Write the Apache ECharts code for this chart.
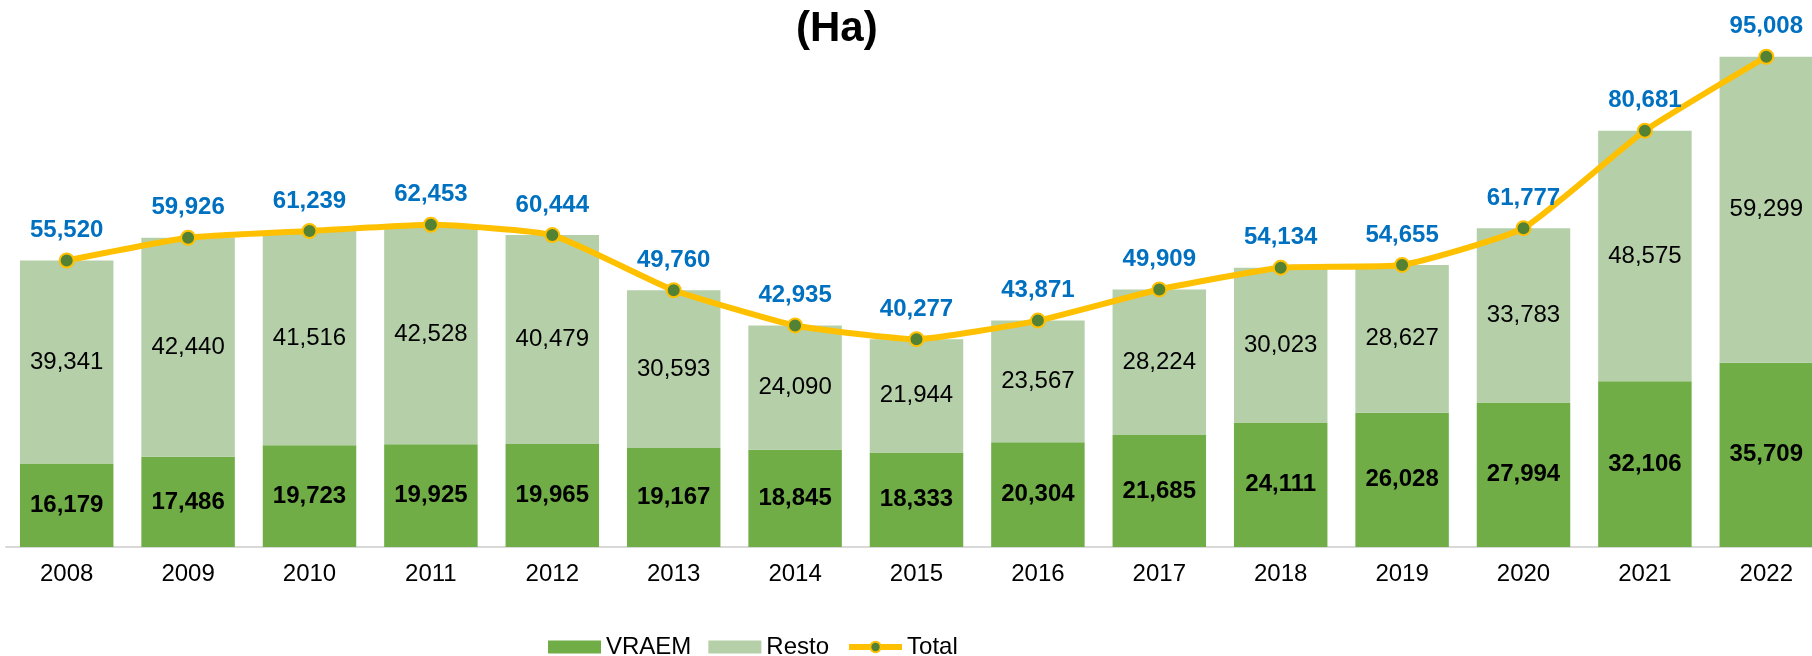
<!DOCTYPE html>
<html>
<head>
<meta charset="utf-8">
<script src="https://cdn.jsdelivr.net/npm/echarts@6/dist/echarts.min.js"></script>
<style>
html, body { margin: 0; padding: 0; background: #fff; }
#main { width: 1812px; height: 656px; }
</style>
</head>
<body>
<div id="main"></div>
<script>
// datos (Ha)
var years = ['2008','2009','2010','2011','2012','2013','2014','2015','2016','2017','2018','2019','2020','2021','2022'];
var vraem = [16179, 17486, 19723, 19925, 19965, 19167, 18845, 18333, 20304, 21685, 24111, 26028, 27994, 32106, 35709];
var resto = [39341, 42440, 41516, 42528, 40479, 30593, 24090, 21944, 23567, 28224, 30023, 28627, 33783, 48575, 59299];
var total = [55520, 59926, 61239, 62453, 60444, 49760, 42935, 40277, 43871, 49909, 54134, 54655, 61777, 80681, 95008];

var fontNm = 'Liberation Sans, Arial, sans-serif';

function fmt(v){
	return String(v).replace(/\B(?=(\d{3})+(?!\d))/g, ',');
}

var myChart = echarts.init(document.getElementById('main'));

var option = {
	animation: false,
	title: {
		text: '(Ha)',
		left: 796,
		top: 8,
		padding: 0,
		textStyle: { fontFamily: fontNm, fontSize: 42, fontWeight: 'bold', color: '#000' }
	},
	legend: {
		left: 543,
		top: 630,
		itemWidth: 53,
		itemHeight: 13,
		itemGap: 17,
		textStyle: { fontFamily: fontNm, fontSize: 24, color: '#000' },
		data: [
			{ name: 'VRAEM', icon: 'rect' },
			{ name: 'Resto', icon: 'rect' },
			{ name: 'Total', lineStyle: { width: 6, color: '#FFC000' } }
		]
	},
	grid: { left: 6, top: 0, width: 1821, height: 547, outerBoundsMode: 'none', containLabel: false },
	xAxis: {
		type: 'category',
		data: years,
		axisLine: { lineStyle: { color: '#D9D9D9', width: 2 } },
		axisTick: { show: false },
		axisLabel: { fontFamily: fontNm, fontSize: 24, color: '#000', margin: 15 }
	},
	yAxis: {
		type: 'value',
		min: 0,
		max: 106000,
		show: false,
		splitLine: { show: false }
	},
	series: [
		{
			name: 'VRAEM',
			type: 'bar',
			stack: 'ha',
			barWidth: '77%',
			data: vraem,
			itemStyle: { color: '#70AD47' },
			label: {
				show: true,
				position: 'inside',
				fontFamily: fontNm,
				fontSize: 24,
				fontWeight: 'bold',
				color: '#000',
				formatter: function(p){ return fmt(p.value); }
			}
		},
		{
			name: 'Resto',
			type: 'bar',
			stack: 'ha',
			data: resto,
			itemStyle: { color: '#B5CFA8' },
			label: {
				show: true,
				position: 'inside',
				fontFamily: fontNm,
				fontSize: 24,
				color: '#000',
				formatter: function(p){ return fmt(p.value); }
			}
		},
		{
			name: 'Total',
			type: 'line',
			data: total,
			smooth: 0.15,
			symbol: 'circle',
			symbolSize: 14,
			lineStyle: { color: '#FFC000', width: 6 },
			itemStyle: { color: '#548235', borderColor: '#FFC000', borderWidth: 2 },
			label: {
				show: true,
				position: 'top',
				distance: 10,
				fontFamily: fontNm,
				fontSize: 24,
				fontWeight: 'bold',
				color: '#0070C0',
				formatter: function(p){ return fmt(p.value); }
			},
			z: 5
		}
	]
};

myChart.setOption(option);
</script>
</body>
</html>
